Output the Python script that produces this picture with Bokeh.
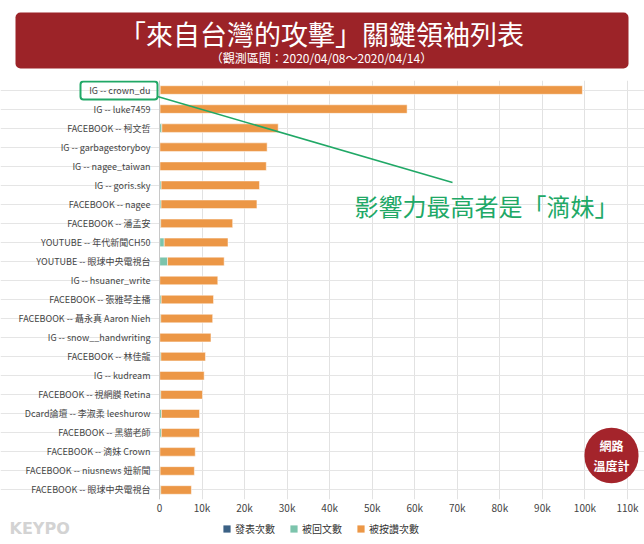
from bokeh.plotting import figure
from bokeh.layouts import column
from bokeh.models import (ColumnDataSource, FactorRange, Range1d, FixedTicker, Legend,
                          LegendItem, Label, BoxAnnotation, Arrow, Span)
from bokeh.core.properties import value
from bokeh.embed import file_html
from bokeh.resources import INLINE

# ---------------- data ----------------
names = [
    "IG -- crown_du", "IG -- luke7459", "FACEBOOK -- 柯文哲", "IG -- garbagestoryboy",
    "IG -- nagee_taiwan", "IG -- goris.sky", "FACEBOOK -- nagee", "FACEBOOK -- 潘孟安",
    "YOUTUBE -- 年代新聞CH50", "YOUTUBE -- 眼球中央電視台", "IG -- hsuaner_write",
    "FACEBOOK -- 張雅琴主播", "FACEBOOK -- 聶永真 Aaron Nieh", "IG -- snow__handwriting",
    "FACEBOOK -- 林佳龍", "IG -- kudream", "FACEBOOK -- 視網膜 Retina",
    "Dcard論壇 -- 李淑柔 leeshurow", "FACEBOOK -- 黑貓老師", "FACEBOOK -- 滴妹 Crown",
    "FACEBOOK -- niusnews 妞新聞", "FACEBOOK -- 眼球中央電視台",
]
posts = [14, 9, 25, 8, 10, 12, 18, 20, 60, 45, 7, 22, 9, 6, 15, 8, 10, 5, 12, 6, 30, 40]
comments = [150, 120, 520, 90, 110, 380, 350, 260, 1050, 1850, 60, 380, 280, 70, 300, 60,
            280, 450, 420, 90, 120, 250]
likes = [99236, 58071, 27355, 25202, 24980, 23108, 22532, 16920, 14990, 13305, 13633, 12298,
         12211, 12024, 10485, 10432, 9810, 8945, 8968, 8304, 8050, 7210]

series_keys = ["posts", "comments", "likes"]
series_labels = ["發表次數", "被回文數", "被按讚次數"]
series_colors = ["#3b6185", "#7cc4ac", "#ec9746"]

x_ticks = [0, 10000, 20000, 30000, 40000, 50000, 60000, 70000, 80000, 90000, 100000, 110000]
x_tick_labels = ["0", "10k", "20k", "30k", "40k", "50k", "60k", "70k", "80k", "90k", "100k", "110k"]

title_text = "「來自台灣的攻擊」關鍵領袖列表"
subtitle_text = "（觀測區間：2020/04/08～2020/04/14）"
note_text = "影響力最高者是「滴妹」"

FONT = "Noto Sans CJK TC"
GREEN = "#20a866"

# ---------------- geometry (pixels) ----------------
W = 644
TOP_H = 80          # banner strip
FRAME_H = 419       # bar area
BOT_BORDER = 19     # x-axis labels
LEG_H = 544 - TOP_H - FRAME_H - BOT_BORDER   # legend strip
PX0 = 159           # pixel position of value 0
PX_PER_UNIT = 42.545 / 10000.0

def blank(h):
    f = figure(width=W, height=h, x_range=Range1d(0, 1), y_range=Range1d(0, 1),
               x_axis_location=None, y_axis_location=None, min_border=0,
               output_backend="svg", toolbar_location=None, tools="")
    f.outline_line_color = None
    f.grid.visible = False
    return f

# ---------------- banner ----------------
top = blank(TOP_H)
top.add_layout(BoxAnnotation(left=15, right=628, top=TOP_H - 12, bottom=TOP_H - 68,
                             left_units="screen", right_units="screen",
                             top_units="screen", bottom_units="screen",
                             fill_color="#9c2328", fill_alpha=1, line_color=None,
                             border_radius=5))
top.add_layout(Label(x=321, y=TOP_H - 33, x_units="screen", y_units="screen", text=title_text,
                     text_align="center", text_baseline="middle", text_color="white",
                     text_font=FONT, text_font_size="27px"))
top.add_layout(Label(x=321, y=TOP_H - 57, x_units="screen", y_units="screen", text=subtitle_text,
                     text_align="center", text_baseline="middle", text_color="white",
                     text_font=FONT, text_font_size="12px"))

# ---------------- main chart ----------------
src = ColumnDataSource(dict(name=names, posts=posts, comments=comments, likes=likes))

p = figure(y_range=FactorRange(factors=list(reversed(names))),
           x_range=Range1d(-PX0 / PX_PER_UNIT, (W - PX0) / PX_PER_UNIT),
           frame_width=W, frame_height=FRAME_H, y_axis_location=None,
           min_border_left=0, min_border_right=0, min_border_top=0,
           min_border_bottom=BOT_BORDER,
           output_backend="svg", toolbar_location=None, tools="")

rs = p.hbar_stack(series_keys, y="name", height=0.45, color=series_colors, source=src,
                  line_color="white", line_width=0.5)

# category labels along the value-0 baseline
p.text(x=0, y="name", text="name", source=src, x_offset=-9, text_align="right",
       text_baseline="middle", text_font=value(FONT), text_font_size="9px",
       text_color="#444444")

p.outline_line_color = None
p.xgrid.grid_line_color = "#e2e2e2"
p.xaxis.ticker = FixedTicker(ticks=x_ticks)
p.xgrid.ticker = FixedTicker(ticks=x_ticks)
p.xaxis.major_label_overrides = dict(zip(x_ticks, x_tick_labels))
p.xaxis.axis_line_color = None
p.xaxis.major_tick_line_color = None
p.xaxis.minor_tick_line_color = None
p.xaxis.major_tick_out = 0
p.xaxis.major_label_standoff = 0
p.xaxis.major_label_text_font = FONT
p.xaxis.major_label_text_font_size = "10px"
p.xaxis.major_label_text_color = "#444444"

p.add_layout(Span(location=0, dimension="height", line_color="#c8c8c8", line_width=1))

# highlight box, connector and note (screen px from frame bottom-left)
FB = TOP_H + FRAME_H  # page y of frame bottom
p.add_layout(BoxAnnotation(left=80, right=157, top=FB - 81, bottom=FB - 99,
                           left_units="screen", right_units="screen",
                           top_units="screen", bottom_units="screen",
                           fill_alpha=0, line_color=GREEN, line_alpha=1, line_width=2,
                           border_radius=3))
p.add_layout(Arrow(end=None, x_start=157, y_start=FB - 96, x_end=452, y_end=FB - 182,
                   start_units="screen", end_units="screen",
                   line_color=GREEN, line_width=1.5))
p.add_layout(Label(x=354, y=FB - 205, x_units="screen", y_units="screen", text=note_text,
                   text_align="left", text_baseline="middle", text_color=GREEN,
                   text_font=FONT, text_font_size="24px"))

# logo badge
p.add_layout(Label(x=611, y=FB - 455, x_units="screen", y_units="screen", text="網路\n溫度計",
                   text_align="center", text_baseline="middle", text_color="white",
                   text_font=FONT, text_font_size="12px", text_font_style="bold",
                   background_fill_color="#a4242b", background_fill_alpha=1,
                   padding=9, border_radius=27))

# ---------------- legend strip ----------------
bot = blank(LEG_H)
# off-canvas swatch renderers that only feed the legend
dummies = [bot.hbar(y=[5], left=[0], right=[0], height=0.5, color=c, line_color=None)
           for c in series_colors]
legend = Legend(items=[LegendItem(label=l, renderers=[r]) for l, r in zip(series_labels, dummies)],
                orientation="horizontal", location=(222, 8), padding=0, margin=0, spacing=14,
                glyph_width=9, glyph_height=9, label_standoff=4, label_height=10,
                label_text_font=FONT, label_text_font_size="10px", label_text_color="#333333",
                border_line_color=None, background_fill_alpha=0)
bot.add_layout(legend)
bot.add_layout(Label(x=9, y=LEG_H - 10, x_units="screen", y_units="screen", text="KEYPO",
                     text_align="left", text_baseline="middle", text_color="#d3d3d3",
                     text_font="DejaVu Sans", text_font_size="16px", text_font_style="bold"))

layout = column(top, p, bot, spacing=0)
open("out.html", "w").write(file_html(layout, INLINE))
